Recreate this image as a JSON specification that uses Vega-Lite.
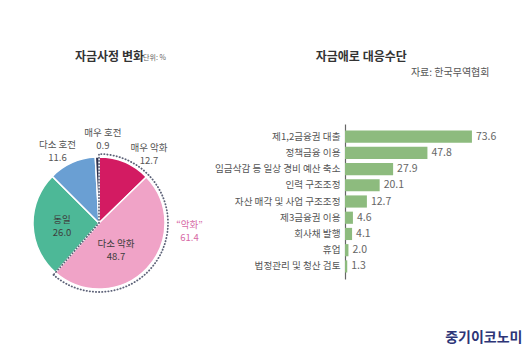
{
  "$schema": "https://vega.github.io/schema/vega-lite/v6.json",
  "background": "white",
  "padding": {"top": 51, "left": 0, "right": 4, "bottom": 4},
  "spacing": 11,
  "config": {
    "view": {"stroke": null},
    "font": "Noto Sans CJK KR"
  },
  "title": {
    "text": "단위: %",
    "anchor": "start",
    "frame": "group",
    "dx": 143,
    "offset": -10,
    "fontSize": 7,
    "fontWeight": "normal",
    "color": "#666666"
  },
  "datasets": {
    "pie": [
      {"category": "매우 악화", "value": 12.7, "order": 1},
      {"category": "다소 악화", "value": 48.7, "order": 2},
      {"category": "동일", "value": 26.0, "order": 3},
      {"category": "다소 호전", "value": 11.6, "order": 4},
      {"category": "매우 호전", "value": 0.9, "order": 5}
    ],
    "group": [
      {"group": "악화", "value": 61.4, "order": 1},
      {"group": "기타", "value": 38.5, "order": 2}
    ],
    "bars": [
      {"item": "제1,2금융권 대출", "value": 73.6},
      {"item": "정책금융 이용", "value": 47.8},
      {"item": "임금삭감 등 일상 경비 예산 축소", "value": 27.9},
      {"item": "인력 구조조정", "value": 20.1},
      {"item": "자산 매각 및 사업 구조조정", "value": 12.7},
      {"item": "제3금융권 이용", "value": 4.6},
      {"item": "회사채 발행", "value": 4.1},
      {"item": "휴업", "value": 2.0},
      {"item": "법정관리 및 청산 검토", "value": 1.3}
    ]
  },
  "hconcat": [
    {
      "width": 198,
      "height": 198,
      "title": {
        "text": "자금사정 변화",
        "frame": "group",
        "anchor": "start",
        "dx": 75,
        "fontSize": 12,
        "fontWeight": "bold",
        "color": "#333333",
        "offset": 60
      },
      "data": {"name": "pie"},
      "layer": [
        {
          "mark": {"type": "arc", "outerRadius": 66, "stroke": "white", "strokeWidth": 1.5},
          "encoding": {
            "theta": {"field": "value", "type": "quantitative", "stack": true},
            "order": {"field": "order", "type": "quantitative"},
            "color": {
              "field": "category",
              "type": "nominal",
              "legend": null,
              "scale": {
                "domain": ["매우 악화", "다소 악화", "동일", "다소 호전", "매우 호전"],
                "range": ["#d31b62", "#f0a3c7", "#4db897", "#6a9fd3", "#2c2f4c"]
              }
            }
          }
        },
        {
          "data": {"name": "group"},
          "transform": [{"filter": "datum.group === '악화'"}],
          "mark": {
            "type": "arc",
            "outerRadius": 69,
            "fill": "white",
            "fillOpacity": 0,
            "stroke": "#5d6278",
            "strokeWidth": 1.8,
            "strokeDash": [0.3, 2.8],
            "strokeCap": "round"
          },
          "encoding": {
            "theta": {"field": "value", "type": "quantitative", "stack": true}
          }
        },
        {
          "transform": [
            {"stack": "value", "groupby": [], "sort": [{"field": "order"}], "as": ["v0", "v1"]},
            {"filter": "datum.category === '매우 악화'"},
            {"calculate": "(datum.v0 + datum.v1) / 2", "as": "mid"},
            {"calculate": "datum.category + '\\n' + format(datum.value, '.1f')", "as": "label"}
          ],
          "mark": {"type": "text", "radius": 85, "thetaOffset": 0.229, "dy": -6, "fontSize": 9.5, "color": "#555555", "lineBreak": "\n", "lineHeight": 13},
          "encoding": {
            "theta": {"field": "mid", "type": "quantitative", "stack": null},
            "text": {"field": "label"}
          }
        },
        {
          "transform": [
            {"stack": "value", "groupby": [], "sort": [{"field": "order"}], "as": ["v0", "v1"]},
            {"filter": "datum.category === '다소 호전'"},
            {"calculate": "(datum.v0 + datum.v1) / 2", "as": "mid"},
            {"calculate": "datum.category + '\\n' + format(datum.value, '.1f')", "as": "label"}
          ],
          "mark": {"type": "text", "radius": 83, "thetaOffset": -0.103, "dy": -6, "fontSize": 9.5, "color": "#555555", "lineBreak": "\n", "lineHeight": 13},
          "encoding": {
            "theta": {"field": "mid", "type": "quantitative", "stack": null},
            "text": {"field": "label"}
          }
        },
        {
          "transform": [
            {"stack": "value", "groupby": [], "sort": [{"field": "order"}], "as": ["v0", "v1"]},
            {"filter": "datum.category === '매우 호전'"},
            {"calculate": "(datum.v0 + datum.v1) / 2", "as": "mid"},
            {"calculate": "datum.category + '\\n' + format(datum.value, '.1f')", "as": "label"}
          ],
          "mark": {"type": "text", "radius": 84, "thetaOffset": 0.075, "dy": -6, "fontSize": 9.5, "color": "#555555", "lineBreak": "\n", "lineHeight": 13},
          "encoding": {
            "theta": {"field": "mid", "type": "quantitative", "stack": null},
            "text": {"field": "label"}
          }
        },
        {
          "transform": [
            {"stack": "value", "groupby": [], "sort": [{"field": "order"}], "as": ["v0", "v1"]},
            {"filter": "datum.category === '동일'"},
            {"calculate": "(datum.v0 + datum.v1) / 2", "as": "mid"},
            {"calculate": "datum.category + '\\n' + format(datum.value, '.1f')", "as": "label"}
          ],
          "mark": {"type": "text", "radius": 37, "thetaOffset": -0.035, "dy": -6, "fontSize": 9.5, "color": "#3d3d3d", "lineBreak": "\n", "lineHeight": 13},
          "encoding": {
            "theta": {"field": "mid", "type": "quantitative", "stack": null},
            "text": {"field": "label"}
          }
        },
        {
          "transform": [
            {"stack": "value", "groupby": [], "sort": [{"field": "order"}], "as": ["v0", "v1"]},
            {"filter": "datum.category === '다소 악화'"},
            {"calculate": "(datum.v0 + datum.v1) / 2", "as": "mid"},
            {"calculate": "datum.category + '\\n' + format(datum.value, '.1f')", "as": "label"}
          ],
          "mark": {"type": "text", "radius": 32, "thetaOffset": 0.253, "dy": -6, "fontSize": 9.5, "color": "#3d3d3d", "lineBreak": "\n", "lineHeight": 13},
          "encoding": {
            "theta": {"field": "mid", "type": "quantitative", "stack": null},
            "text": {"field": "label"}
          }
        },
        {
          "data": {"name": "group"},
          "transform": [
            {"stack": "value", "groupby": [], "sort": [{"field": "order"}], "as": ["v0", "v1"]},
            {"filter": "datum.group === '악화'"},
            {"calculate": "(datum.v0 + datum.v1) / 2", "as": "mid"},
            {"calculate": "'“' + datum.group + '”' + '\\n' + format(datum.value, '.1f')", "as": "label"}
          ],
          "mark": {"type": "text", "radius": 91, "thetaOffset": -0.255, "dy": -8, "fontSize": 9.5, "color": "#d76aa6", "lineBreak": "\n", "lineHeight": 13},
          "encoding": {
            "theta": {"field": "mid", "type": "quantitative", "stack": null},
            "text": {"field": "label"}
          }
        }
      ]
    },
    {
      "width": 144,
      "height": 155,
      "title": {
        "text": "자금애로 대응수단",
        "anchor": "middle",
        "frame": "bounds",
        "fontSize": 12,
        "fontWeight": "bold",
        "color": "#333333",
        "offset": 3,
        "dx": -7
      },
      "data": {"name": "bars"},
      "encoding": {
        "y": {
          "field": "item",
          "type": "nominal",
          "sort": null,
          "scale": {"paddingInner": 0.25, "paddingOuter": 0.4},
          "axis": {
            "title": null,
            "ticks": false,
            "labelFontSize": 9.6,
            "labelColor": "#555555",
            "labelPadding": 5,
            "labelLimit": 300,
            "domainColor": "#666666",
            "domainWidth": 1.2
          }
        }
      },
      "resolve": {"axis": {"x": "independent"}},
      "layer": [
        {
          "mark": {"type": "bar", "color": "#8dbb7e"},
          "encoding": {
            "x": {
              "field": "value",
              "type": "quantitative",
              "scale": {"domain": [0, 83.5], "nice": false},
              "axis": {
                "orient": "top",
                "title": "자료: 한국무역협회",
                "titleFontSize": 10,
                "titleFontWeight": "normal",
                "titleColor": "#555555",
                "titleAnchor": "end",
                "titlePadding": 47,
                "labels": false,
                "ticks": false,
                "domain": false,
                "grid": false
              }
            }
          }
        },
        {
          "mark": {"type": "text", "align": "left", "baseline": "middle", "dx": 4, "fontSize": 10.5, "color": "#666666"},
          "encoding": {
            "x": {
              "field": "value",
              "type": "quantitative",
              "axis": {
                "orient": "bottom",
                "title": "중기이코노미",
                "titleFontSize": 14,
                "titleFontWeight": "bold",
                "titleColor": "#2d3577",
                "titleAlign": "right",
                "titleX": 177,
                "titlePadding": 51,
                "labels": false,
                "ticks": false,
                "domain": false,
                "grid": false
              }
            },
            "text": {"field": "value", "type": "quantitative", "format": ".1f"}
          }
        }
      ]
    }
  ]
}
